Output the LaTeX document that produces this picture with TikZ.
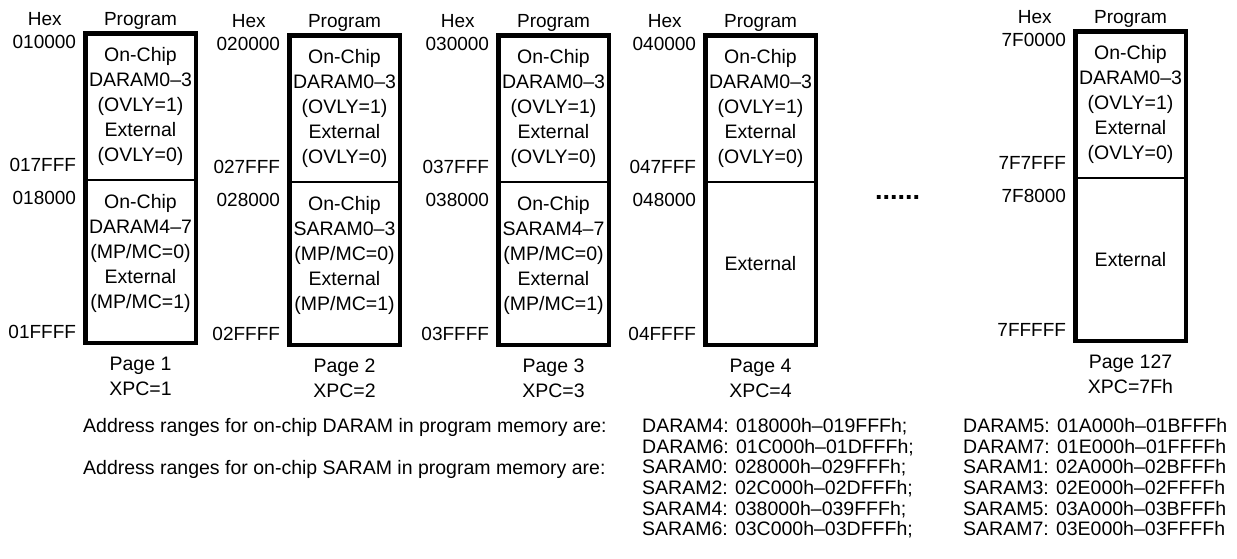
\documentclass[tikz,border=0pt]{standalone}
\usepackage{fontspec}
\setmainfont{Liberation Sans}
\usetikzlibrary{positioning}
\newcommand{\boxfont}{\fontsize{19.5}{25}\selectfont}
\newcommand{\labfont}{\fontsize{19}{23}\selectfont}
\newcommand{\notefont}{\fontsize{19.5}{20.7}\selectfont}

\begin{document}
\begin{tikzpicture}[
  x=1pt, y=-1pt,
  node distance=4pt,
  upper/.style={minimum width=110.5pt, minimum height=147pt, inner sep=0pt, outer sep=0pt, align=center, font=\boxfont},
  lower/.style={upper, minimum height=162.5pt},
  boxtext/.style={inner sep=0pt, align=center, font=\boxfont},
  frame/.style={draw, line width=4.5pt},
  divider/.style={draw, line width=2pt},
  head/.style={inner sep=0pt, font=\labfont},
  addr/.style={inner sep=0pt, anchor=east, font=\labfont},
  pagelbl/.style={inner sep=0pt, align=center, font=\boxfont},
  note/.style={inner sep=0pt, anchor=north west, align=left, font=\notefont}
]
\useasboundingbox (0,0) rectangle (1237,558);

\node[upper] (u1) at (140.5,106.75) {On-Chip\\DARAM0–3\\(OVLY=1)\\External\\(OVLY=0)};
\node[lower, below=0pt of u1] (l1) {};
\node[boxtext] (t1) at ([yshift=8pt]l1.center) {On-Chip\\DARAM4–7\\(MP/MC=0)\\External\\(MP/MC=1)};
\draw[divider] (u1.south west) -- (u1.south east);
\draw[frame] (u1.north west) rectangle (l1.south east);
\node[head, above=4pt of u1] (pr1) {Program};
\node[head, base left=42pt of pr1] (hx1) {Hex};
\node[addr] (a1a) at ([xshift=-9pt,yshift=-8.5pt]u1.north west) {010000};
\node[addr] (a1b) at ([xshift=-9pt,yshift=15pt]u1.south west) {017FFF};
\node[addr] (a1c) at ([xshift=-9pt,yshift=-18pt]l1.north west) {018000};
\node[addr] (a1d) at ([xshift=-9pt,yshift=11pt]l1.south west) {01FFFF};
\node[pagelbl, below=14pt of l1] (pg1) {Page 1\\XPC=1};

\node[upper] (u2) at (344.5,108.75) {On-Chip\\DARAM0–3\\(OVLY=1)\\External\\(OVLY=0)};
\node[lower, below=0pt of u2] (l2) {};
\node[boxtext] (t2) at ([yshift=8pt]l2.center) {On-Chip\\SARAM0–3\\(MP/MC=0)\\External\\(MP/MC=1)};
\draw[divider] (u2.south west) -- (u2.south east);
\draw[frame] (u2.north west) rectangle (l2.south east);
\node[head, above=4pt of u2] (pr2) {Program};
\node[head, base left=42pt of pr2] (hx2) {Hex};
\node[addr] (a2a) at ([xshift=-9pt,yshift=-8.5pt]u2.north west) {020000};
\node[addr] (a2b) at ([xshift=-9pt,yshift=15pt]u2.south west) {027FFF};
\node[addr] (a2c) at ([xshift=-9pt,yshift=-18pt]l2.north west) {028000};
\node[addr] (a2d) at ([xshift=-9pt,yshift=11pt]l2.south west) {02FFFF};
\node[pagelbl, below=14pt of l2] (pg2) {Page 2\\XPC=2};

\node[upper] (u3) at (553.5,108.75) {On-Chip\\DARAM0–3\\(OVLY=1)\\External\\(OVLY=0)};
\node[lower, below=0pt of u3] (l3) {};
\node[boxtext] (t3) at ([yshift=8pt]l3.center) {On-Chip\\SARAM4–7\\(MP/MC=0)\\External\\(MP/MC=1)};
\draw[divider] (u3.south west) -- (u3.south east);
\draw[frame] (u3.north west) rectangle (l3.south east);
\node[head, above=4pt of u3] (pr3) {Program};
\node[head, base left=42pt of pr3] (hx3) {Hex};
\node[addr] (a3a) at ([xshift=-9pt,yshift=-8.5pt]u3.north west) {030000};
\node[addr] (a3b) at ([xshift=-9pt,yshift=15pt]u3.south west) {037FFF};
\node[addr] (a3c) at ([xshift=-9pt,yshift=-18pt]l3.north west) {038000};
\node[addr] (a3d) at ([xshift=-9pt,yshift=11pt]l3.south west) {03FFFF};
\node[pagelbl, below=14pt of l3] (pg3) {Page 3\\XPC=3};

\node[upper] (u4) at (760.5,108.75) {On-Chip\\DARAM0–3\\(OVLY=1)\\External\\(OVLY=0)};
\node[lower, below=0pt of u4] (l4) {External};
\draw[divider] (u4.south west) -- (u4.south east);
\draw[frame] (u4.north west) rectangle (l4.south east);
\node[head, above=4pt of u4] (pr4) {Program};
\node[head, base left=42pt of pr4] (hx4) {Hex};
\node[addr] (a4a) at ([xshift=-9pt,yshift=-8.5pt]u4.north west) {040000};
\node[addr] (a4b) at ([xshift=-9pt,yshift=15pt]u4.south west) {047FFF};
\node[addr] (a4c) at ([xshift=-9pt,yshift=-18pt]l4.north west) {048000};
\node[addr] (a4d) at ([xshift=-9pt,yshift=11pt]l4.south west) {04FFFF};
\node[pagelbl, below=14pt of l4] (pg4) {Page 4\\XPC=4};

\node[font=\bfseries\fontsize{27}{27}\selectfont, inner sep=0pt] (dots) at (897.5,197) {......};

\node[upper] (u5) at (1130.5,104.75) {On-Chip\\DARAM0–3\\(OVLY=1)\\External\\(OVLY=0)};
\node[lower, below=0pt of u5] (l5) {External};
\draw[divider] (u5.south west) -- (u5.south east);
\draw[frame] (u5.north west) rectangle (l5.south east);
\node[head, above=4pt of u5] (pr5) {Program};
\node[head, base left=42pt of pr5] (hx5) {Hex};
\node[addr] (a5a) at ([xshift=-9pt,yshift=-8.5pt]u5.north west) {7F0000};
\node[addr] (a5b) at ([xshift=-9pt,yshift=15pt]u5.south west) {7F7FFF};
\node[addr] (a5c) at ([xshift=-9pt,yshift=-18pt]l5.north west) {7F8000};
\node[addr] (a5d) at ([xshift=-9pt,yshift=11pt]l5.south west) {7FFFFF};
\node[pagelbl, below=14pt of l5] (pg5) {Page 127\\XPC=7Fh};

\node[note] (dnote) at (83,418) {Address ranges for on-chip DARAM in program memory are:};
\node[note] (snote) at (83,460) {Address ranges for on-chip SARAM in program memory are:};
\node[note] (list1) at (642,418) {DARAM4: 018000h–019FFFh;\\DARAM6: 01C000h–01DFFFh;\\SARAM0: 028000h–029FFFh;\\SARAM2: 02C000h–02DFFFh;\\SARAM4: 038000h–039FFFh;\\SARAM6: 03C000h–03DFFFh;};
\node[note] (list2) at (963,418) {DARAM5: 01A000h–01BFFFh\\DARAM7: 01E000h–01FFFFh\\SARAM1: 02A000h–02BFFFh\\SARAM3: 02E000h–02FFFFh\\SARAM5: 03A000h–03BFFFh\\SARAM7: 03E000h–03FFFFh};
\end{tikzpicture}
\end{document}
